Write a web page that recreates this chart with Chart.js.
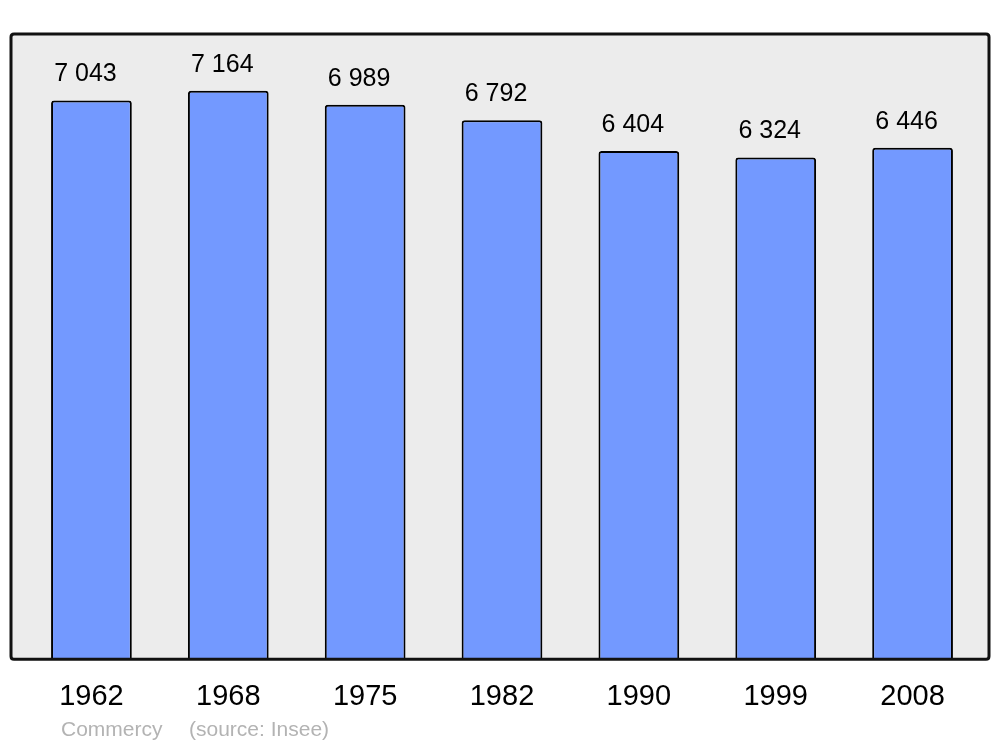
<!DOCTYPE html>
<html>
<head>
<meta charset="utf-8">
<script src="https://cdn.jsdelivr.net/npm/chart.js@4/dist/chart.umd.min.js"></script>
<style>
  html, body { margin: 0; padding: 0; background: #fff; }
  #wrap { width: 1000px; height: 747px; }
</style>
</head>
<body>
<div id="wrap"><canvas id="popChart"></canvas></div>
<script>
const years = ['1962', '1968', '1975', '1982', '1990', '1999', '2008'];
const population = [7043, 7164, 6989, 6792, 6404, 6324, 6446];
const yMax = 7880;
const townName = 'Commercy';
const sourceText = '(source: Insee)';

Chart.defaults.font.family = '"Liberation Sans", Arial, sans-serif';

function fmt(n) {
    return String(n).replace(/\B(?=(\d{3})+(?!\d))/g, ' ');
}

function roundRect(c, x, y, w, h, r) {
    c.beginPath();
    c.moveTo(x + r, y);
    c.lineTo(x + w - r, y);
    c.quadraticCurveTo(x + w, y, x + w, y + r);
    c.lineTo(x + w, y + h - r);
    c.quadraticCurveTo(x + w, y + h, x + w - r, y + h);
    c.lineTo(x + r, y + h);
    c.quadraticCurveTo(x, y + h, x, y + h - r);
    c.lineTo(x, y + r);
    c.quadraticCurveTo(x, y, x + r, y);
    c.closePath();
}

// grey frame behind the bars, value labels, footer text
const framePlugin = {
    id: 'frame',
    beforeDatasetsDraw(chart) {
        const c = chart.ctx;
        const a = chart.chartArea;
        c.save();
        roundRect(c, 11, a.top, 978, a.bottom - a.top, 3);
        c.fillStyle = '#ececec';
        c.fill();
        c.restore();
    },
    afterDatasetsDraw(chart) {
        const c = chart.ctx;
        const a = chart.chartArea;
        c.save();
        roundRect(c, 11, a.top, 978, a.bottom - a.top, 3);
        c.lineWidth = 3;
        c.strokeStyle = '#111';
        c.stroke();

        const meta = chart.getDatasetMeta(0);
        c.fillStyle = '#000';
        c.font = '25px "Liberation Sans", Arial, sans-serif';
        c.textAlign = 'center';
        c.textBaseline = 'alphabetic';
        meta.data.forEach((bar, i) => {
            c.fillText(fmt(population[i]), bar.x - 6, bar.y - 19);
        });

        c.fillStyle = '#b3b3b3';
        c.font = '21px "Liberation Sans", Arial, sans-serif';
        c.textAlign = 'left';
        c.textBaseline = 'middle';
        c.fillText(townName, 61, 730);
        c.fillText(sourceText, 189, 730);
        c.restore();
    }
};

new Chart(document.getElementById('popChart'), {
    type: 'bar',
    data: {
        labels: years,
        datasets: [{
            data: population,
            backgroundColor: '#7399ff',
            borderColor: '#000',
            borderWidth: 2,
            borderSkipped: 'bottom',
            borderRadius: 3,
            barPercentage: 0.59,
            categoryPercentage: 1
        }]
    },
    options: {
        responsive: true,
        maintainAspectRatio: false,
        animation: false,
        layout: {
            padding: { left: 23, right: 19, top: 34, bottom: 13 }
        },
        plugins: {
            legend: { display: false },
            tooltip: { enabled: false }
        },
        scales: {
            x: {
                grid: { display: false, drawTicks: false },
                border: { display: false },
                ticks: {
                    color: '#000',
                    padding: 20,
                    font: { size: 29 }
                }
            },
            y: {
                display: false,
                min: 0,
                max: yMax
            }
        }
    },
    plugins: [framePlugin]
});
</script>
</body>
</html>
